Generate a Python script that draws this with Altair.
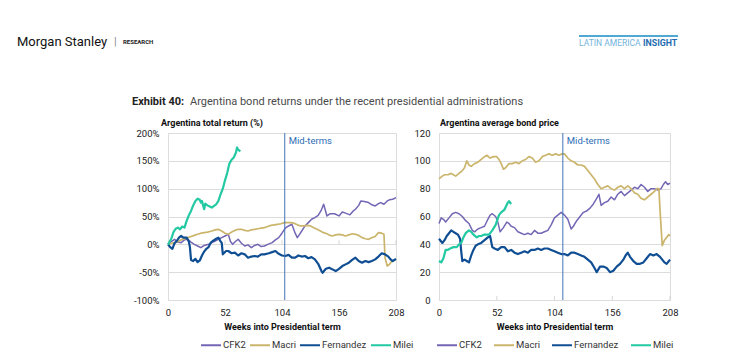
import altair as alt
import pandas as pd

SERIES = ["CFK2", "Macri", "Fernandez", "Milei"]
COLORS = ["#7466b4", "#cbb56c", "#104e94", "#22c9a2"]
WIDTHS = [1.5, 1.7, 2.2, 2.2]
TICK_WEEKS = [0, 52, 104, 156, 208]

# ---------------- Left panel: Argentina total return (%) ----------------
L_CFK2_W = [0, 3, 6, 9, 12, 15, 18, 21, 24, 27, 30, 33, 37, 40, 43, 46, 49, 52, 55, 57, 59, 62, 64, 67, 70, 73, 76, 79, 82, 85, 88, 91, 95, 98, 101, 104, 107, 110, 113, 116, 118, 120, 122, 125, 128, 131, 134, 137, 140, 142, 145, 148, 152, 156, 159, 162, 166, 169, 171, 174, 176, 179, 183, 186, 189, 192, 194, 197, 200, 202, 205, 208]
L_CFK2_V = [0, 5, 9, 4, 3, 8, 9, 4, 0, -3, -6, -2, 0, 3, 6, 9, 12, 15, 18, 5, 0, 6, 9, 2, -3, -1, -6, -2, 0, -4, -3, 0, 3, 8, 12, 20, 29, 33, 36, 20, 12, 18, 24, 33, 39, 45, 48, 52, 62, 72, 51, 55, 55, 51, 58, 56, 53, 60, 63, 70, 78, 77, 75, 71, 69, 73, 75, 72, 78, 80, 81, 84]

L_MACRI_W = [0, 3, 6, 9, 12, 15, 18, 21, 24, 27, 30, 33, 36, 40, 43, 46, 49, 52, 55, 58, 61, 64, 67, 70, 73, 76, 79, 82, 85, 88, 91, 94, 97, 100, 103, 106, 109, 112, 115, 118, 121, 124, 127, 130, 133, 136, 139, 142, 145, 148, 150, 153, 156, 159, 162, 165, 168, 171, 174, 177, 180, 183, 186, 189, 192, 195, 197, 198, 200, 202, 204, 206, 208]
L_MACRI_V = [0, 2, 3, 5, 8, 10, 12, 14, 16, 18, 20, 21, 22, 24, 26, 27, 24, 20, 18, 22, 25, 27, 27, 25, 24, 26, 27, 28, 29, 30, 32, 34, 35, 36, 37, 39, 39, 39, 38, 35, 33, 33, 34, 33, 30, 27, 24, 21, 19, 16, 15, 17, 18, 17, 15, 17, 19, 18, 16, 12, 10, 9, 12, 14, 21, 20, 18, -24, -39, -36, -31, -29, -27]

L_FERN_W = [0, 2, 4, 6, 8, 10, 12, 14, 17, 19, 20, 21, 23, 25, 27, 29, 31, 33, 35, 37, 39, 41, 44, 46, 48, 49, 50, 53, 55, 58, 61, 64, 67, 70, 73, 76, 79, 82, 85, 88, 92, 95, 98, 101, 104, 107, 110, 113, 116, 119, 122, 125, 128, 131, 134, 137, 140, 141, 144, 147, 150, 153, 156, 159, 162, 165, 168, 171, 174, 177, 180, 183, 186, 189, 192, 195, 198, 201, 203, 205, 208]
L_FERN_V = [0, -5, -8, 2, 6, 12, 15, 12, 12, 5, -5, -28, -30, -26, -32, -29, -20, -13, -8, -5, 3, 6, 10, 12, 5, 3, -18, -12, -12, -16, -15, -20, -16, -18, -24, -22, -21, -22, -18, -18, -16, -14, -12, -17, -20, -21, -19, -24, -24, -20, -22, -21, -25, -23, -27, -35, -48, -51, -44, -42, -45, -48, -44, -39, -36, -33, -28, -24, -30, -33, -30, -32, -30, -27, -22, -16, -18, -22, -27, -30, -26]

L_MILEI_W = [0, 1, 3, 5, 7, 9, 11, 13, 15, 17, 19, 21, 23, 25, 27, 29, 30, 31, 32, 33, 34, 36, 38, 40, 42, 44, 46, 48, 50, 52, 54, 56, 58, 60, 62, 63, 64, 66]
L_MILEI_V = [0, 3, 10, 22, 28, 30, 27, 32, 30, 42, 52, 60, 70, 78, 82, 80, 75, 78, 70, 63, 73, 70, 68, 66, 69, 72, 78, 90, 100, 115, 128, 145, 152, 156, 165, 174, 170, 167]

# ---------------- Right panel: Argentina average bond price ----------------
R_CFK2_W = [0, 2, 4, 6, 9, 12, 15, 18, 21, 24, 27, 30, 32, 35, 38, 41, 44, 46, 48, 51, 53, 55, 58, 61, 63, 65, 68, 71, 74, 77, 80, 83, 86, 89, 92, 95, 98, 101, 104, 107, 110, 113, 116, 119, 121, 124, 127, 130, 133, 136, 139, 142, 144, 146, 149, 152, 155, 158, 161, 164, 167, 170, 173, 176, 179, 182, 185, 188, 191, 194, 197, 200, 202, 204, 206, 208]
R_CFK2_V = [55, 59, 58, 56, 59, 62, 63, 62, 60, 57, 55, 50, 49, 51, 52, 53, 58, 61, 62, 60, 56, 49, 52, 56, 55, 53, 52, 49, 48, 47, 48, 47, 50, 48, 48, 49, 50, 54, 59, 61, 63, 61, 58, 51, 53, 57, 60, 63, 64, 66, 69, 73, 76, 68, 70, 71, 74, 72, 76, 78, 75, 77, 79, 81, 80, 83, 81, 78, 80, 80, 79, 80, 83, 85, 83, 84]

R_MACRI_W = [0, 3, 5, 8, 11, 13, 15, 18, 21, 23, 25, 27, 29, 32, 35, 38, 41, 43, 46, 49, 52, 54, 56, 58, 60, 63, 66, 69, 72, 75, 78, 81, 84, 87, 90, 93, 96, 99, 102, 105, 108, 111, 113, 116, 119, 122, 125, 128, 131, 134, 137, 140, 143, 146, 149, 152, 155, 158, 161, 164, 167, 170, 173, 176, 179, 182, 185, 188, 191, 194, 196, 198, 199, 200, 201, 203, 205, 207, 208]
R_MACRI_V = [87, 89, 90, 90, 91, 90, 89, 91, 93, 95, 100, 97, 96, 98, 99, 101, 103, 104, 102, 103, 103, 101, 98, 94, 95, 98, 98, 99, 98, 100, 101, 103, 102, 99, 100, 103, 104, 105, 104, 105, 104, 105, 105, 102, 100, 99, 97, 97, 96, 93, 90, 87, 83, 80, 81, 82, 80, 79, 81, 82, 80, 82, 80, 77, 76, 73, 72, 74, 76, 78, 80, 80, 65, 52, 39, 43, 45, 47, 46]

R_FERN_W = [0, 3, 5, 7, 9, 11, 13, 15, 17, 19, 20, 21, 23, 25, 27, 29, 31, 33, 35, 38, 41, 44, 46, 48, 50, 53, 56, 59, 62, 65, 68, 71, 74, 77, 80, 83, 86, 89, 92, 95, 98, 101, 104, 107, 110, 113, 116, 119, 122, 125, 128, 131, 134, 137, 140, 142, 145, 148, 151, 154, 157, 160, 163, 166, 168, 170, 172, 175, 178, 181, 184, 187, 190, 193, 196, 199, 201, 203, 205, 208]
R_FERN_V = [44, 41, 43, 46, 48, 50, 49, 48, 47, 44, 35, 28, 29, 28, 27, 32, 36, 39, 40, 41, 43, 45, 46, 38, 37, 36, 38, 38, 35, 36, 34, 33, 34, 35, 34, 36, 36, 37, 36, 37, 37, 36, 35, 34, 33, 33, 32, 34, 34, 33, 32, 31, 29, 27, 23, 20, 24, 24, 23, 20, 21, 24, 26, 29, 32, 34, 31, 28, 26, 26, 27, 30, 33, 32, 33, 31, 29, 27, 26, 29]

R_MILEI_W = [0, 2, 4, 6, 8, 10, 13, 16, 18, 20, 22, 24, 27, 29, 31, 34, 36, 38, 41, 45, 48, 51, 54, 56, 59, 62, 63, 65]
R_MILEI_V = [28, 27, 30, 36, 36, 37, 38, 38, 40, 41, 45, 48, 50, 49, 47, 45, 46, 46, 47, 47, 50, 54, 61, 63, 65, 70, 71, 69]

MID_LEFT = 106.5
MID_RIGHT = 111.5

FONT = "Roboto, Liberation Sans, sans-serif"


def long_df(pairs):
    rows = []
    for name, (weeks, vals) in zip(SERIES, pairs):
        for w, v in zip(weeks, vals):
            rows.append({"week": w, "value": v, "series": name})
    return pd.DataFrame(rows)


left_df = long_df([(L_CFK2_W, L_CFK2_V), (L_MACRI_W, L_MACRI_V), (L_FERN_W, L_FERN_V), (L_MILEI_W, L_MILEI_V)])
right_df = long_df([(R_CFK2_W, R_CFK2_V), (R_MACRI_W, R_MACRI_V), (R_FERN_W, R_FERN_V), (R_MILEI_W, R_MILEI_V)])


def one():
    return pd.DataFrame({"k": [0]})


def txt(x, y, text, size, color, bold=False):
    return alt.Chart(one()).mark_text(
        align="left", baseline="middle", fontSize=size, font=FONT, color=color,
        fontWeight="bold" if bold else "normal").encode(
        x=alt.value(x), y=alt.value(y), text=alt.value(text))


def panel(df, ydom, yvals, label_expr, mid, subtitle, sub_x, width, legend_x, col_pad, extras):
    x = alt.X("week:Q", scale=alt.Scale(domain=[0, 208], nice=False, zero=False),
              axis=alt.Axis(values=TICK_WEEKS, grid=False, domain=False, ticks=False,
                            labelPadding=7, labelFlush=False, labelOverlap=False,
                            labelFont=FONT, labelFontSize=9.5, labelColor="#222",
                            title="Weeks into Presidential term", titlePadding=6,
                            titleFont=FONT, titleFontSize=9, titleFontWeight="bold",
                            titleColor="#111"))
    y = alt.Y("value:Q", scale=alt.Scale(domain=ydom, nice=False, zero=False),
              axis=alt.Axis(values=yvals, grid=True, domain=False, ticks=False,
                            labelOverlap=False, labelExpr=label_expr, title=None,
                            labelFont=FONT, labelFontSize=9.5, labelColor="#222",
                            labelPadding=9, gridColor="#dcdcdc"))
    color = alt.Color("series:N", sort=SERIES,
                      scale=alt.Scale(domain=SERIES, range=COLORS),
                      legend=alt.Legend(orient="none", legendX=legend_x, legendY=201,
                                        direction="horizontal", title=None,
                                        symbolType="stroke", symbolSize=400,
                                        symbolStrokeWidth=2, labelFontSize=9.5,
                                        labelFont=FONT, labelColor="#333",
                                        labelOffset=1, columnPadding=col_pad,
                                        padding=0))
    line_layers = [
        alt.Chart(df).transform_filter(alt.datum.series == s)
        .mark_line(strokeWidth=w, strokeJoin="round")
        .encode(x=x, y=y, color=color)
        for s, w in zip(SERIES, WIDTHS)
    ]
    tick_df = pd.DataFrame({"week": TICK_WEEKS[1:], "value": [0] * 4})
    ticks = alt.Chart(tick_df).mark_tick(orient="vertical", size=4, thickness=1,
                                         color="#c8c8c8", yOffset=-2).encode(x=x, y=y)
    rule = alt.Chart(pd.DataFrame({"week": [mid]})).mark_rule(
        color="#4274b8", strokeWidth=1).encode(x=x)
    mid_txt = alt.Chart(pd.DataFrame({"week": [mid]})).mark_text(
        align="left", baseline="middle", dx=4, fontSize=9.5, font=FONT,
        color="#2f6db5").encode(x=x, y=alt.value(8), text=alt.value("Mid-terms"))
    sub = txt(sub_x, -10, subtitle, 9, "#111", bold=True)
    return alt.layer(ticks, *line_layers, rule, mid_txt, sub, *extras).properties(
        width=width, height=167)


left_extras = [
    alt.Chart(one()).mark_point(opacity=0, size=1).encode(
        x=alt.value(-159), y=alt.value(-124)),
    txt(-151, -91, "Morgan Stanley", 13, "#111"),
    txt(-54, -91, "|", 11, "#888"),
    txt(-45, -91, "RESEARCH", 6, "#222", bold=True),
    txt(-36, -31, "Exhibit 40:", 11, "#222", bold=True),
    txt(22, -31, "Argentina bond returns under the recent presidential administrations", 11, "#4a4a4a"),
]

right_extras = [
    alt.Chart(one()).mark_rule(color="#4fa9d2", strokeWidth=2).encode(
        x=alt.value(140), x2=alt.value(239), y=alt.value(-97)),
    txt(140, -90, "LATIN AMERICA", 8.5, "#72b4dc"),
    txt(204, -90, "INSIGHT", 8.8, "#1f6cb0", bold=True),
]

left = panel(left_df, [-100, 200], [-100, -50, 0, 50, 100, 150, 200],
             "datum.value + '%'", MID_LEFT, "Argentina total return (%)", -7, 228,
             32, 0, left_extras)
right = panel(right_df, [0, 120], [0, 20, 40, 60, 80, 100, 120],
              "datum.label", MID_RIGHT, "Argentina average bond price", 1, 231,
              -3, 8, right_extras)

chart = alt.hconcat(left, right, spacing=43, bounds="flush").resolve_scale(
    color="independent", x="independent", y="independent"
).resolve_legend(color="independent").properties(
    padding={"left": 0, "top": 0, "right": 0, "bottom": 0}
).configure_view(stroke=None).configure(background="white")

chart.save("out.html", embed_options={"renderer": "svg", "actions": False})
